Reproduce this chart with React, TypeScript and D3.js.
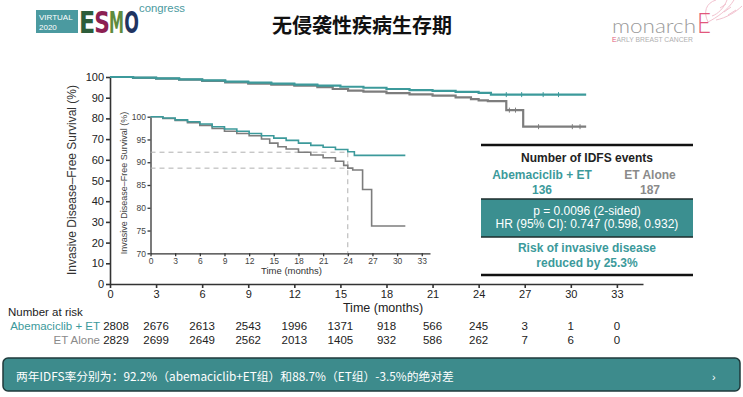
import * as d3 from "d3";
import React, { useRef, useEffect } from "react";

const W = 743;
const H = 397;
const TEAL = "#3c9a9b";
const GRAY = "#7d7d7d";
const FONT = "'Liberation Sans', Arial, sans-serif";
const CJK = "'Noto Sans CJK SC', 'Noto Sans CJK JP', sans-serif";

// tick values
const monthTicks = [0, 3, 6, 9, 12, 15, 18, 21, 24, 27, 30, 33];
const mainYTicks = [0, 10, 20, 30, 40, 50, 60, 70, 80, 90, 100];
const insetYTicks = [70, 75, 80, 85, 90, 95, 100];

// KM curves (months, % IDFS)
const abemaT = [0, 1.5, 3, 4.5, 6, 7.5, 9, 10.5, 12, 13.5, 15, 16.5, 18, 19.5, 21, 22.5, 24, 24.8, 31];
const abemaS = [100, 99.7, 99.3, 98.9, 98.4, 97.8, 97.3, 96.8, 96.3, 95.8, 95.3, 94.8, 94.2, 93.7, 93.3, 92.8, 92.3, 91.5, 91.5];
const etT = [0, 1.5, 3, 4.5, 6, 7.5, 9, 10.5, 12, 13.5, 14.5, 15.5, 16.5, 18, 19.5, 21, 22.5, 23.5, 24, 24.6, 25.8, 26.9, 31];
const etS = [100, 99.6, 99.2, 98.7, 98.1, 97.4, 96.8, 96.3, 95.8, 95.1, 94.2, 93.4, 92.9, 92.2, 91.6, 91.0, 90.2, 89.3, 88.7, 88.3, 84.0, 76.0, 76.0];
const abemaCensor = [25.8, 26.8, 28.2, 29.2];
const etCensor = [26.0, 26.4, 27.9, 30.1, 30.6];

// landmark
const landmark = 24;
const rateAbema = 92.2;
const rateET = 88.7;

// number at risk
const riskAbema = [2808, 2676, 2613, 2543, 1996, 1371, 918, 566, 245, 3, 1, 0];
const riskET = [2829, 2699, 2649, 2562, 2013, 1405, 932, 586, 262, 7, 6, 0];

// logo letters
const esmoLetters = ["E", "S", "M", "O"];
const esmoColors = ["#2d5d3b", "#8c1f52", "#5f8b3d", "#1f3461"];
const esmoCenters = [87, 102, 116.5, 131.5];
const esmoScale = [0.85, 0.78, 0.54, 0.62];

const survAt = (T: number[], S: number[], t: number) => S[d3.bisectRight(T, t) - 1];

function App() {
  const ref = useRef<SVGSVGElement | null>(null);

  useEffect(() => {
    const svg = d3.select(ref.current);
    svg.selectAll(".chart").remove();
    const g = svg.append("g").attr("class", "chart");

    const styleAxis = (sel: any, fs: number, sw: number) => {
      sel.attr("font-family", FONT).attr("font-size", fs);
      sel.select(".domain").attr("stroke", "#333").attr("stroke-width", sw);
      sel.selectAll(".tick line").attr("stroke", "#333").attr("stroke-width", sw);
      sel.selectAll(".tick text").attr("fill", "#222");
    };

    // ---------- main chart ----------
    const x = d3.scaleLinear().domain([0, 34.7]).range([110, 643]);
    const y = d3.scaleLinear().domain([0, 100]).range([284, 77]);

    const xa = g.append("g").attr("transform", "translate(0,284)")
      .call(d3.axisBottom(x).tickValues(monthTicks).tickSize(4).tickSizeOuter(0).tickPadding(2));
    styleAxis(xa, 11, 1.6);
    const ya = g.append("g").attr("transform", "translate(110,0)")
      .call(d3.axisLeft(y).tickValues(mainYTicks).tickSize(4).tickSizeOuter(0).tickPadding(2));
    styleAxis(ya, 11, 1.6);

    const line = d3.line<number>().curve(d3.curveStepAfter);
    const drawCurve = (T: number[], S: number[], xs: any, ys: any, color: string, sw: number) => {
      g.append("path")
        .attr("d", line.x((d, i) => xs(T[i])).y((d) => ys(d))(S))
        .attr("fill", "none").attr("stroke", color).attr("stroke-width", sw);
    };
    drawCurve(etT, etS, x, y, GRAY, 2.2);
    drawCurve(abemaT, abemaS, x, y, TEAL, 2.2);

    const censor = (ts: number[], T: number[], S: number[], color: string) => {
      g.append("g").selectAll("line").data(ts).enter().append("line")
        .attr("x1", (d) => x(d)).attr("x2", (d) => x(d))
        .attr("y1", (d) => y(survAt(T, S, d)) - 2.5)
        .attr("y2", (d) => y(survAt(T, S, d)) + 2.5)
        .attr("stroke", color).attr("stroke-width", 1);
    };
    censor(abemaCensor, abemaT, abemaS, TEAL);
    censor(etCensor, etT, etS, GRAY);

    g.append("text").attr("transform", "translate(76,180)rotate(-90)")
      .attr("text-anchor", "middle").attr("font-family", FONT).attr("font-size", 12).attr("fill", "#333")
      .text("Invasive Disease\u2013Free Survival (%)");
    g.append("text").attr("x", 383).attr("y", 312).attr("text-anchor", "middle")
      .attr("font-family", FONT).attr("font-size", 12.5).attr("fill", "#222").text("Time (months)");

    // number at risk
    g.append("text").attr("x", 8).attr("y", 316).attr("font-family", FONT).attr("font-size", 11.5)
      .attr("fill", "#222").text("Number at risk");
    g.append("text").attr("x", 100).attr("y", 329.5).attr("text-anchor", "end").attr("font-family", FONT)
      .attr("font-size", 11.5).attr("fill", TEAL).text("Abemaciclib + ET");
    g.append("text").attr("x", 100).attr("y", 343.5).attr("text-anchor", "end").attr("font-family", FONT)
      .attr("font-size", 11.5).attr("fill", "#8a8a8a").text("ET Alone");
    const riskRow = (vals: number[], yy: number) => {
      g.append("g").selectAll("text").data(vals).enter().append("text")
        .attr("x", (d, i) => x(monthTicks[i]) + (i === 0 ? 6 : 0)).attr("y", yy)
        .attr("text-anchor", "middle").attr("font-family", FONT).attr("font-size", 11.5).attr("fill", "#222")
        .text((d) => d);
    };
    riskRow(riskAbema, 329.5);
    riskRow(riskET, 343.5);

    // ---------- inset ----------
    const xi = d3.scaleLinear().domain([0, 34]).range([150.5, 430]);
    const yi = d3.scaleLinear().domain([70, 100]).range([253.3, 116.7]);

    const xia = g.append("g").attr("transform", "translate(0,253.3)")
      .call(d3.axisBottom(xi).tickValues(monthTicks).tickSize(3).tickSizeOuter(0).tickPadding(1.5));
    styleAxis(xia, 8.5, 1.3);
    const yia = g.append("g").attr("transform", "translate(150.5,0)")
      .call(d3.axisLeft(yi).tickValues(insetYTicks).tickSize(3).tickSizeOuter(0).tickPadding(1.5));
    styleAxis(yia, 8.5, 1.3);
    xia.selectAll(".tick text").attr("fill", "#444");
    yia.selectAll(".tick text").attr("fill", "#444");

    // dashed landmark guides
    [rateAbema, rateET].forEach((r) => {
      g.append("line").attr("x1", xi(0)).attr("x2", xi(landmark)).attr("y1", yi(r)).attr("y2", yi(r))
        .attr("stroke", "#b0b0b0").attr("stroke-width", 1).attr("stroke-dasharray", "5,4");
    });
    g.append("line").attr("x1", xi(landmark)).attr("x2", xi(landmark)).attr("y1", yi(rateAbema)).attr("y2", yi(70))
      .attr("stroke", "#b0b0b0").attr("stroke-width", 1).attr("stroke-dasharray", "5,4");

    drawCurve(etT, etS, xi, yi, GRAY, 1.6);
    drawCurve(abemaT, abemaS, xi, yi, TEAL, 1.6);

    g.append("text").attr("transform", "translate(127,183)rotate(-90)")
      .attr("text-anchor", "middle").attr("font-family", FONT).attr("font-size", 9).attr("fill", "#444")
      .text("Invasive Disease\u2013Free Survival (%)");
    g.append("text").attr("x", 291.5).attr("y", 273.5).attr("text-anchor", "middle")
      .attr("font-family", FONT).attr("font-size", 9.5).attr("fill", "#333").text("Time (months)");
  }, []);

  const tableX0 = 481;
  const tableX1 = 693;
  const tc = (tableX0 + tableX1) / 2;

  return (
    <svg ref={ref} width={W} height={H} style={{ position: "absolute", left: 0, top: 0, background: "#fff" }}>
      {/* ESMO logo */}
      <rect x={36} y={10} width={42} height={23} fill="#4b9aa0" />
      <text x={39} y={20} fontFamily={FONT} fontSize={8} fill="#fff">VIRTUAL</text>
      <text x={39} y={30} fontFamily={FONT} fontSize={8} fill="#fff">2020</text>
      {esmoLetters.map((l, i) => (
        <text key={l} transform={`translate(${esmoCenters[i]},33) scale(${esmoScale[i]},1)`} textAnchor="middle"
          fontFamily="'DejaVu Sans Condensed', 'DejaVu Sans', sans-serif" fontWeight="bold" fontSize={31}
          fill={esmoColors[i]}>{l}</text>
      ))}
      <text x={139} y={12} fontFamily={FONT} fontSize={11} fill="#4b9aa0" textLength={46} lengthAdjust="spacingAndGlyphs">congress</text>

      {/* title */}
      <text x={362} y={33} textAnchor="middle" fontFamily={CJK} fontWeight="bold" fontSize={20} fill="#111">无侵袭性疾病生存期</text>

      {/* monarchE logo */}
      <g fill="none" stroke="#f2c2cf" strokeWidth={1}>
        <path d="M708,22 C703,12 706,3 716,0 M708,22 C716,18 728,10 734,0 M712,16 C718,14 724,8 727,0 M716,20 C726,18 736,12 742,6" />
        <path d="M720,8 L726,4 M724,12 L731,7 M728,15 L736,10" />
      </g>
      <text x={612} y={33} fontFamily="Lato, 'Open Sans', sans-serif" fontWeight={300} fontSize={19} fill="#9a9a9a" textLength={84} lengthAdjust="spacingAndGlyphs">monarch</text>
      <text x={697} y={33} fontFamily="Lato, 'Open Sans', sans-serif" fontWeight={300} fontSize={27} fill="#e2577c" textLength={14} lengthAdjust="spacingAndGlyphs">E</text>
      <text x={612} y={42} fontFamily={FONT} fontSize={6.5} fill="#b0b0b0" textLength={81} lengthAdjust="spacingAndGlyphs">
        <tspan fill="#e2577c">E</tspan>ARLY BREAST CANCER
      </text>

      {/* IDFS events table */}
      <line x1={tableX0} x2={tableX1} y1={145} y2={145} stroke="#111" strokeWidth={2.5} />
      <text x={tc} y={162} textAnchor="middle" fontFamily={FONT} fontWeight="bold" fontSize={12} fill="#222">Number of IDFS events</text>
      <text x={542} y={179} textAnchor="middle" fontFamily={FONT} fontWeight="bold" fontSize={12} fill={TEAL}>Abemaciclib + ET</text>
      <text x={650} y={179} textAnchor="middle" fontFamily={FONT} fontWeight="bold" fontSize={12} fill="#8a8a8a">ET Alone</text>
      <text x={542} y={194} textAnchor="middle" fontFamily={FONT} fontWeight="bold" fontSize={12} fill={TEAL}>136</text>
      <text x={650} y={194} textAnchor="middle" fontFamily={FONT} fontWeight="bold" fontSize={12} fill="#8a8a8a">187</text>
      <rect x={tableX0} y={199} width={tableX1 - tableX0} height={38} fill="#3b8f90" />
      <line x1={tableX0} x2={tableX1} y1={199} y2={199} stroke="#1d2b2b" strokeWidth={1.5} />
      <line x1={tableX0} x2={tableX1} y1={237} y2={237} stroke="#1d2b2b" strokeWidth={1.5} />
      <text x={tc} y={215} textAnchor="middle" fontFamily={FONT} fontSize={12} fill="#fff">p = 0.0096 (2-sided)</text>
      <text x={tc} y={228} textAnchor="middle" fontFamily={FONT} fontSize={12} fill="#fff">HR (95% CI): 0.747 (0.598, 0.932)</text>
      <text x={tc} y={252} textAnchor="middle" fontFamily={FONT} fontWeight="bold" fontSize={12} fill={TEAL}>Risk of invasive disease</text>
      <text x={tc} y={267} textAnchor="middle" fontFamily={FONT} fontWeight="bold" fontSize={12} fill={TEAL}>reduced by 25.3%</text>
      <line x1={tableX0} x2={tableX1} y1={275} y2={275} stroke="#111" strokeWidth={2.5} />

      {/* bottom banner */}
      <rect x={3} y={358} width={737} height={33} rx={5} fill="#3d8b8c" stroke="#1f3a3b" strokeWidth={1.5} />
      <text x={16} y={381} fontFamily={CJK} fontSize={11.8} fill="#fff">两年IDFS率分别为：92.2%（abemaciclib+ET组）和88.7%（ET组）-3.5%的绝对差</text>
      <text x={712} y={381} fontFamily={FONT} fontSize={11} fill="#fff">›</text>
    </svg>
  );
}

export default App;
